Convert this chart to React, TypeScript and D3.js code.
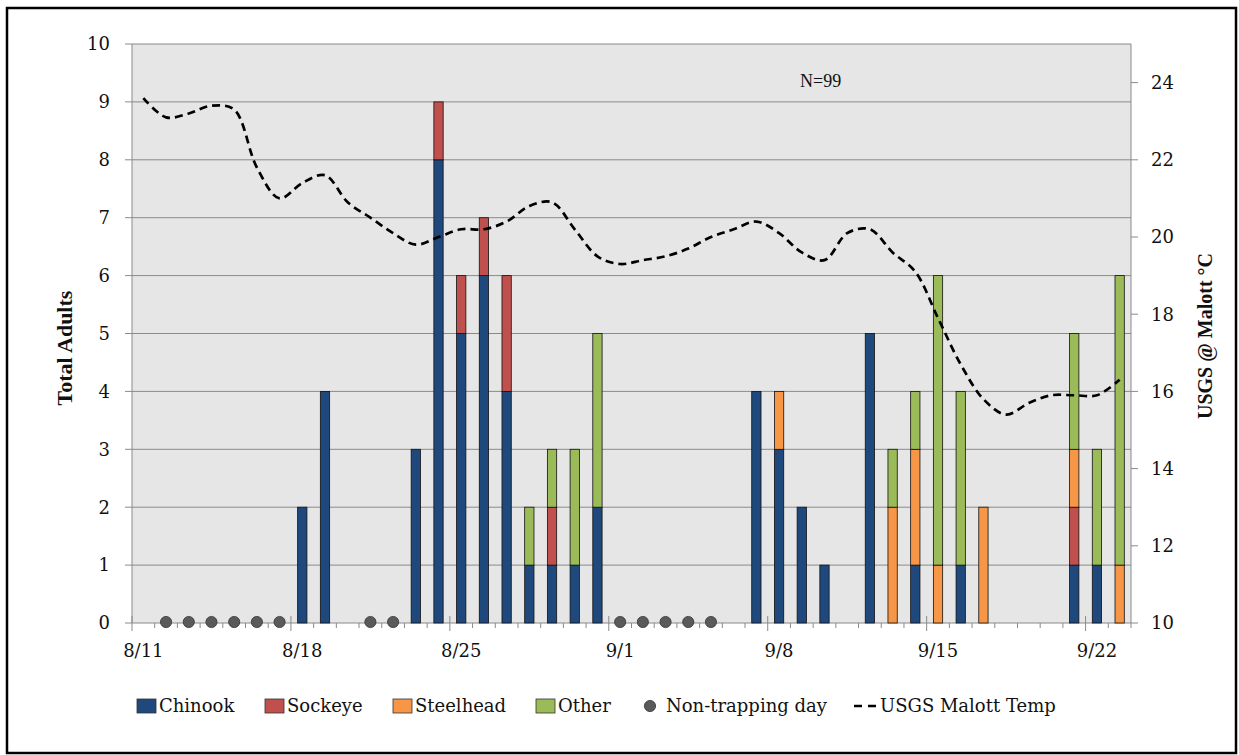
import React from "react";
import * as d3 from "d3";

const dates = [
  "8/11","8/12","8/13","8/14","8/15","8/16","8/17","8/18","8/19","8/20","8/21","8/22","8/23","8/24","8/25","8/26","8/27","8/28","8/29","8/30","8/31",
  "9/1","9/2","9/3","9/4","9/5","9/6","9/7","9/8","9/9","9/10","9/11","9/12","9/13","9/14","9/15","9/16","9/17","9/18","9/19","9/20","9/21","9/22","9/23",
];
const dateLabels = ["8/11", "8/18", "8/25", "9/1", "9/8", "9/15", "9/22"];

const chinook =   [0,0,0,0,0,0,0,2,4,0,0,0,3,8,5,6,4,1,1,1,2,0,0,0,0,0,0,4,3,2,1,0,5,0,1,0,1,0,0,0,0,1,1,0];
const sockeye =   [0,0,0,0,0,0,0,0,0,0,0,0,0,1,1,1,2,0,1,0,0,0,0,0,0,0,0,0,0,0,0,0,0,0,0,0,0,0,0,0,0,1,0,0];
const steelhead = [0,0,0,0,0,0,0,0,0,0,0,0,0,0,0,0,0,0,0,0,0,0,0,0,0,0,0,0,1,0,0,0,0,2,2,1,0,2,0,0,0,1,0,1];
const other =     [0,0,0,0,0,0,0,0,0,0,0,0,0,0,0,0,0,1,1,2,3,0,0,0,0,0,0,0,0,0,0,0,0,1,1,5,3,0,0,0,0,2,2,5];

const nonTrappingDays = ["8/12","8/13","8/14","8/15","8/16","8/17","8/21","8/22","9/1","9/2","9/3","9/4","9/5"];

const temp = [
  23.6,23.1,23.2,23.4,23.3,21.8,21.0,21.4,21.6,20.9,20.5,20.1,19.8,20.0,20.2,20.2,20.4,20.8,20.9,20.2,19.5,
  19.3,19.4,19.5,19.7,20.0,20.2,20.4,20.1,19.6,19.4,20.1,20.2,19.6,19.1,17.9,16.7,15.8,15.4,15.7,15.9,15.9,15.9,16.3,
];

const leftTicks = [0,1,2,3,4,5,6,7,8,9,10];
const rightTicks = [10,12,14,16,18,20,22,24];

const seriesNames = ["Chinook", "Sockeye", "Steelhead", "Other"];
const seriesColors = ["#1f497d", "#c0504d", "#f79646", "#9bbb59"];

const W = 1239, H = 755;
const L = 132, R = 1131, T = 44, B = 623;
const FONT = "'DejaVu Serif', serif";
const TFONT = "'Liberation Serif', serif";

export default function App() {
  const x = d3.scaleBand<string>().domain(dates).range([L, R]).padding(0);
  const y = d3.scaleLinear().domain([0, 10]).range([B, T]);
  const y2 = d3.scaleLinear().domain([10, 25]).range([B, T]);
  const bw = 9.3;
  const cx = (d: string) => (x(d) as number) + x.bandwidth() / 2;

  const rows = dates.map((d, i) => ({ date: d, Chinook: chinook[i], Sockeye: sockeye[i], Steelhead: steelhead[i], Other: other[i] }));
  const stacked = d3.stack<any>().keys(seriesNames)(rows);

  const line = d3
    .line<number>()
    .x((_, i) => cx(dates[i]))
    .y((v) => y2(v))
    .curve(d3.curveCatmullRom.alpha(0.5));

  const gridColor = "#8a8a8a";

  const legendY = 706;
  const legendSquares = [137, 265, 393, 536];

  return (
    <div style={{ position: "absolute", left: 0, top: 0 }}>
      <svg width={W} height={H} style={{ display: "block", background: "#fff" }}>
        <rect x={7} y={8} width={1229} height={745} fill="#fff" stroke="#000" strokeWidth={2.5} />
        <rect x={L} y={T} width={R - L} height={B - T} fill="#e6e6e6" />
        {leftTicks.map((t) => (
          <g key={"lt" + t}>
            <line x1={L - 7} x2={R} y1={y(t)} y2={y(t)} stroke={gridColor} strokeWidth={1} />
            <text x={110} y={y(t)} dy="0.35em" textAnchor="end" fontFamily={FONT} fontSize={18} fill="#111">
              {t}
            </text>
          </g>
        ))}
        <line x1={L} x2={L} y1={T} y2={B} stroke={gridColor} strokeWidth={1} />
        <line x1={R} x2={R} y1={T} y2={B} stroke={gridColor} strokeWidth={1} />
        {rightTicks.map((t) => (
          <g key={"rt" + t}>
            <line x1={R} x2={R + 7} y1={y2(t)} y2={y2(t)} stroke={gridColor} strokeWidth={1} />
            <text x={1151} y={y2(t)} dy="0.35em" textAnchor="start" fontFamily={FONT} fontSize={18} fill="#111">
              {t}
            </text>
          </g>
        ))}
        {/* x axis ticks */}
        {dates.concat(["end"]).map((d, i) => {
          const xx = i < dates.length ? (x(d) as number) : R;
          const major = i % 7 === 0;
          return (
            <line key={"xt" + i} x1={xx} x2={xx} y1={major ? B - 7 : B} y2={major ? B + 8 : B + 5} stroke={gridColor} strokeWidth={1} />
          );
        })}
        {dateLabels.map((d) => (
          <text key={"xl" + d} x={cx(d)} y={657} textAnchor="middle" fontFamily={FONT} fontSize={18} fill="#111">
            {d}
          </text>
        ))}
        {/* bars */}
        {stacked.map((s, si) => (
          <g key={s.key}>
            {s.map((seg, i) =>
              seg[1] - seg[0] > 0 ? (
                <rect
                  key={i}
                  x={cx(dates[i]) - bw / 2}
                  y={y(seg[1])}
                  width={bw}
                  height={y(seg[0]) - y(seg[1])}
                  fill={seriesColors[si]}
                  stroke="#111"
                  strokeWidth={0.8}
                />
              ) : null
            )}
          </g>
        ))}
        {/* non-trapping days */}
        {nonTrappingDays.map((d) => (
          <circle key={"nt" + d} cx={cx(d)} cy={y(0) - 1} r={5.6} fill="#5a5a5a" stroke="#333" strokeWidth={0.8} />
        ))}
        {/* temperature */}
        <path d={line(temp) || ""} fill="none" stroke="#000" strokeWidth={2.7} strokeDasharray="8,5" />
        <text x={800} y={87} fontFamily={TFONT} fontSize={18} fill="#111">
          N=99
        </text>
        {/* axis titles */}
        <text
          transform={`translate(72, 348) rotate(-90)`}
          textAnchor="middle"
          fontFamily={TFONT}
          fontWeight="bold"
          fontSize={22}
          fill="#111"
        >
          Total Adults
        </text>
        <text
          transform={`translate(1212, 336) rotate(-90)`}
          textAnchor="middle"
          fontFamily={TFONT}
          fontWeight="bold"
          fontSize={20}
          fill="#111"
        >
          USGS @ Malott °C
        </text>
        {/* legend */}
        {seriesNames.map((n, i) => (
          <g key={"lg" + n}>
            <rect x={legendSquares[i]} y={legendY - 7} width={19} height={14} fill={seriesColors[i]} stroke="#333" strokeWidth={0.8} />
            <text x={legendSquares[i] + 22} y={legendY} dy="0.35em" fontFamily={FONT} fontSize={18} fill="#111">
              {n}
            </text>
          </g>
        ))}
        <circle cx={650} cy={legendY} r={5.6} fill="#5a5a5a" stroke="#333" strokeWidth={0.8} />
        <text x={666} y={legendY} dy="0.35em" fontFamily={FONT} fontSize={18} fill="#111">
          Non-trapping day
        </text>
        <line x1={854} x2={878} y1={legendY} y2={legendY} stroke="#000" strokeWidth={2.6} strokeDasharray="8,6" />
        <text x={880} y={legendY} dy="0.35em" fontFamily={FONT} fontSize={18} fill="#111">
          USGS Malott Temp
        </text>
      </svg>
    </div>
  );
}
